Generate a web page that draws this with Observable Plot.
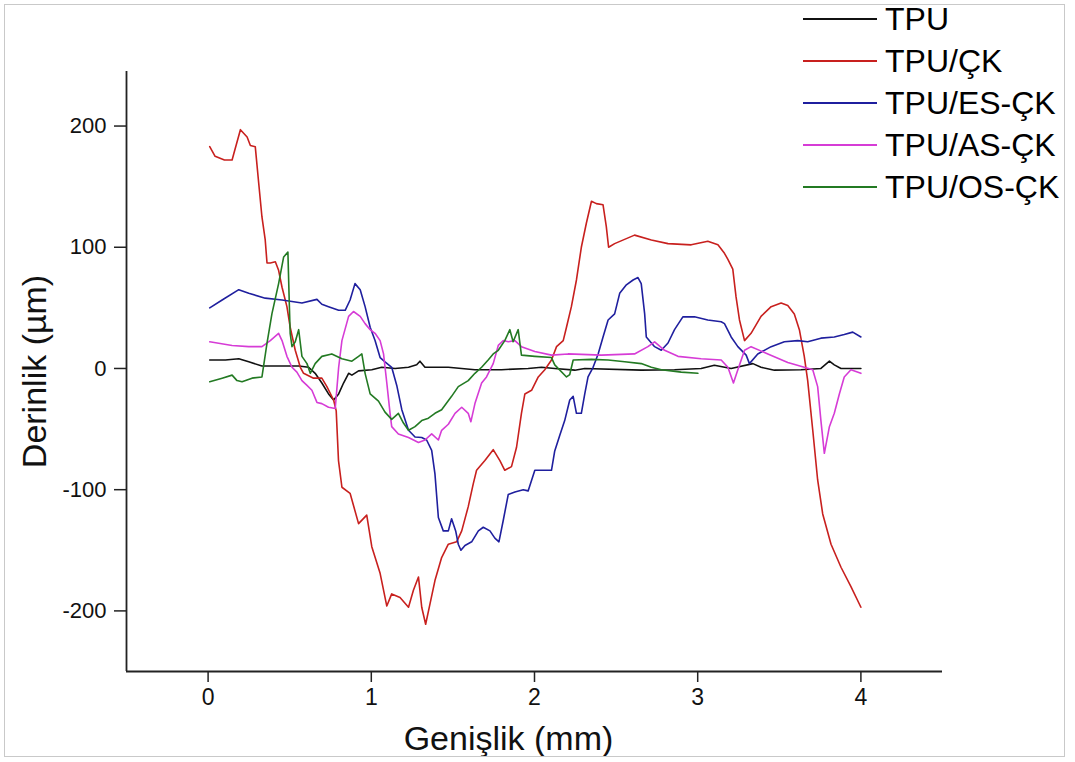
<!DOCTYPE html>
<html>
<head>
<meta charset="utf-8">
<script src="https://cdn.jsdelivr.net/npm/d3@7"></script>
<script src="https://cdn.jsdelivr.net/npm/@observablehq/plot@0.6"></script>
<style>
  html, body { margin: 0; padding: 0; background: #fff; }
  body { width: 1075px; height: 762px; position: relative; overflow: hidden; font-family: "Liberation Sans", Arial, sans-serif; }
  #frame { position: absolute; left: 4px; top: 4px; width: 1061px; height: 753px; border: 1px solid #c9c9c9; box-sizing: border-box; pointer-events: none; }
  #chart { position: absolute; left: 0; top: 0; }
  #legend { position: absolute; left: 803px; top: -2px; }
  .row { display: flex; align-items: center; height: 42px; }
  .row svg { display: block; margin-right: 8px; }
  .lab { font-size: 32px; color: #000; line-height: 1; white-space: nowrap; }
</style>
</head>
<body>
<div id="chart"></div>
<div id="legend"></div>
<div id="frame"></div>
<script>
// ---- data (x in mm, y in µm) ----
const seriesNames = ["TPU", "TPU/ÇK", "TPU/ES-ÇK", "TPU/AS-ÇK", "TPU/OS-ÇK"];
const seriesColors = ["#111111", "#c8201e", "#1f1f9e", "#d63cd6", "#237a23"];

const TPU = [[0.01,7],[0.106,7],[0.188,8],[0.249,5.5],[0.33,2],[0.453,2],[0.555,2],[0.616,1],[0.656,-4],[0.697,-12],[0.738,-21],[0.769,-26],[0.8,-21],[0.83,-12],[0.861,-4],[0.881,-5.5],[0.922,-2],[1.003,-1],[1.064,1],[1.146,0],[1.228,1],[1.278,3],[1.298,6],[1.329,1],[1.472,1],[1.635,-1],[1.798,-1],[1.961,0],[2.043,1],[2.124,0],[2.247,-1.4],[2.308,0],[2.654,-1.4],[2.858,-1],[3.021,0],[3.102,2.7],[3.205,0],[3.338,4],[3.388,1],[3.47,-1.4],[3.633,-1],[3.755,0],[3.807,6],[3.837,3],[3.878,0],[4.0,0]];

const TPU_CK = [[0.01,183],[0.043,175],[0.1,172],[0.147,172],[0.157,177],[0.198,197],[0.239,191],[0.259,184],[0.289,183],[0.31,153],[0.33,125],[0.35,106],[0.361,87],[0.381,87],[0.412,88],[0.432,81],[0.453,67],[0.483,51],[0.503,34],[0.534,15],[0.565,1],[0.585,-4],[0.646,-8],[0.697,-8],[0.728,-15],[0.769,-26],[0.785,-35],[0.799,-76],[0.82,-98],[0.87,-103],[0.922,-128],[0.972,-121],[1.003,-147],[1.054,-169],[1.095,-196],[1.125,-186],[1.176,-189],[1.228,-197],[1.258,-183],[1.289,-172],[1.309,-197],[1.333,-211],[1.36,-194],[1.39,-175],[1.431,-156],[1.472,-145],[1.523,-143],[1.554,-134],[1.594,-114],[1.625,-95],[1.645,-84],[1.696,-76],[1.747,-67],[1.788,-76],[1.818,-84],[1.859,-81],[1.89,-65],[1.92,-37],[1.941,-21],[1.982,-18],[2.023,-7],[2.063,-1],[2.104,7],[2.135,18],[2.176,23],[2.196,34],[2.226,51],[2.257,73],[2.287,100],[2.318,120],[2.349,138],[2.379,136],[2.42,135],[2.44,117],[2.454,100],[2.491,103],[2.613,110],[2.716,106],[2.818,103],[2.96,102],[3.062,105],[3.124,102],[3.164,95],[3.185,90],[3.215,82],[3.235,59],[3.256,40],[3.287,23],[3.327,29],[3.388,43],[3.45,51],[3.511,54],[3.552,52],[3.592,45],[3.623,32],[3.653,10],[3.674,-10],[3.705,-51],[3.735,-92],[3.766,-120],[3.817,-145],[3.878,-164],[3.939,-180],[4.0,-197]];

const TPU_ES_CK = [[0.01,50],[0.086,56.5],[0.188,65],[0.249,62],[0.35,58],[0.453,56.5],[0.575,54],[0.667,57],[0.697,53],[0.738,51],[0.8,48],[0.84,48],[0.87,56.5],[0.9,70],[0.932,65],[0.962,51],[0.993,34],[1.023,23],[1.054,9],[1.084,5.5],[1.125,1],[1.156,-14],[1.187,-34],[1.228,-51],[1.268,-56.5],[1.309,-57],[1.339,-59],[1.37,-67.5],[1.39,-87],[1.411,-123],[1.441,-134],[1.472,-134],[1.492,-124],[1.517,-134],[1.533,-145],[1.549,-150],[1.574,-146],[1.615,-143],[1.656,-134],[1.686,-131],[1.727,-134],[1.757,-140],[1.782,-143],[1.809,-125],[1.839,-104],[1.88,-102],[1.931,-100],[1.961,-101],[2.002,-84],[2.104,-84],[2.124,-68],[2.155,-55],[2.185,-43],[2.216,-26],[2.237,-23],[2.257,-37],[2.287,-37],[2.308,-21],[2.328,-7],[2.359,1],[2.39,12],[2.42,26],[2.451,40],[2.491,45],[2.522,62],[2.563,69],[2.604,73],[2.634,75],[2.654,70],[2.675,45],[2.685,26],[2.736,18],[2.777,15],[2.818,21],[2.858,32],[2.909,42.6],[2.98,42.6],[3.062,40],[3.144,38.5],[3.164,37],[3.205,26],[3.246,18],[3.297,11],[3.317,4],[3.368,12],[3.45,18],[3.531,22],[3.613,23],[3.674,22],[3.755,25],[3.837,26],[3.898,28],[3.95,30],[4.0,26]];

const TPU_AS_CK = [[0.01,22],[0.147,19],[0.249,18],[0.33,18],[0.381,23],[0.432,29],[0.453,23],[0.483,10],[0.514,1],[0.544,-3],[0.575,-10],[0.606,-14],[0.636,-18],[0.667,-28],[0.697,-29],[0.738,-32],[0.779,-33],[0.8,1],[0.82,23],[0.861,43],[0.891,47],[0.932,43],[0.962,37],[0.993,32],[1.023,29],[1.054,23],[1.075,12],[1.095,-12],[1.115,-37],[1.125,-48],[1.166,-54],[1.228,-57],[1.289,-61],[1.329,-59],[1.37,-54],[1.411,-59],[1.431,-51],[1.472,-46],[1.513,-37],[1.554,-32],[1.594,-37],[1.61,-44],[1.635,-29],[1.676,-12],[1.706,-7],[1.747,4],[1.778,19],[1.809,23],[1.839,22],[1.88,23],[1.92,18],[2.002,14],[2.104,11],[2.206,12],[2.41,11],[2.613,12],[2.695,18],[2.736,22],[2.797,15],[2.879,10],[3.021,8],[3.144,7],[3.185,1],[3.219,-12],[3.246,-1],[3.287,15],[3.327,18],[3.43,12],[3.552,5],[3.653,1],[3.705,-1],[3.735,-15],[3.755,-43],[3.776,-70],[3.807,-48],[3.837,-37],[3.868,-21],[3.898,-7],[3.939,-1],[4.0,-4]];

const TPU_OS_CK = [[0.01,-11],[0.086,-8],[0.147,-5.5],[0.177,-10],[0.208,-11],[0.269,-8],[0.33,-7],[0.361,21],[0.391,45],[0.432,70],[0.463,92],[0.489,96],[0.497,56],[0.503,29],[0.514,18],[0.534,22],[0.555,32],[0.575,10],[0.606,4],[0.626,-4],[0.656,4],[0.697,10],[0.758,12],[0.82,8],[0.881,6],[0.922,10],[0.942,12],[0.962,-4],[0.993,-21],[1.044,-27],[1.084,-36],[1.125,-42],[1.166,-37],[1.197,-45],[1.228,-51],[1.268,-48],[1.309,-43],[1.35,-41],[1.39,-37],[1.431,-34],[1.492,-23],[1.533,-15],[1.594,-10],[1.635,-4],[1.676,1],[1.716,7],[1.747,12],[1.778,15],[1.818,23],[1.849,32],[1.869,22],[1.9,32],[1.92,11],[2.002,10],[2.104,9],[2.124,3],[2.196,-7],[2.216,-5],[2.237,7],[2.349,7.5],[2.451,7],[2.553,5.5],[2.654,4],[2.716,1],[2.777,-1],[2.899,-3],[3.001,-4]];

const xDomain = [-0.5, 4.5];
const yDomain = [-250, 245];
const xTicks = [0, 1, 2, 3, 4];
const yTicks = [-200, -100, 0, 100, 200];
const xLabel = "Genişlik (mm)";
const yLabel = "Derinlik (µm)";

const seriesData = [TPU, TPU_CK, TPU_ES_CK, TPU_AS_CK, TPU_OS_CK];
const rows = seriesData.flatMap((arr, i) => arr.map(([x, y]) => ({series: seriesNames[i], x, y})));

const font = "'Liberation Sans', Arial, sans-serif";

const chart = Plot.plot({
  width: 1075,
  height: 762,
  marginTop: 71,
  marginLeft: 126,
  marginRight: 133,
  marginBottom: 91,
  style: {fontFamily: font, background: "transparent", overflow: "visible"},
  x: {domain: xDomain},
  y: {domain: yDomain},
  color: {domain: seriesNames, range: seriesColors},
  marks: [
    Plot.line(rows, {x: "x", y: "y", z: "series", stroke: "series", strokeWidth: 1.6, curve: "linear"}),
    Plot.ruleX([xDomain[0]], {stroke: "#222", strokeWidth: 1.8}),
    Plot.ruleY([yDomain[0]], {stroke: "#222", strokeWidth: 1.8}),
    Plot.axisY(yTicks, {tickSize: 12, tickPadding: 8, fontSize: 22, stroke: "#222", strokeWidth: 1.5, label: null, fill: "#111", tickFormat: d => String(d)}),
    Plot.axisX(xTicks, {tickSize: 11, tickPadding: 6, fontSize: 23, stroke: "#222", strokeWidth: 1.5, label: null, fill: "#111", tickFormat: d => String(d)}),
    Plot.text([xLabel], {frameAnchor: "bottom", lineAnchor: "middle", textAnchor: "middle", dy: 68, dx: -26, fontSize: 34, fill: "#111", text: d => d}),
    Plot.text([yLabel], {frameAnchor: "left", textAnchor: "middle", lineAnchor: "middle", dx: -91, rotate: -90, fontSize: 34, fill: "#111", text: d => d})
  ]
});
document.getElementById("chart").appendChild(chart);

const legend = document.getElementById("legend");
const ns = "http://www.w3.org/2000/svg";
seriesNames.forEach((name, i) => {
  const row = document.createElement("div");
  row.className = "row";
  const sw = document.createElementNS(ns, "svg");
  sw.setAttribute("width", "74");
  sw.setAttribute("height", "6");
  const ln = document.createElementNS(ns, "line");
  ln.setAttribute("x1", "0"); ln.setAttribute("x2", "74");
  ln.setAttribute("y1", "3"); ln.setAttribute("y2", "3");
  ln.setAttribute("stroke", seriesColors[i]);
  ln.setAttribute("stroke-width", "1.8");
  sw.appendChild(ln);
  const lab = document.createElement("span");
  lab.className = "lab";
  lab.textContent = name;
  row.appendChild(sw);
  row.appendChild(lab);
  legend.appendChild(row);
});
</script>
</body>
</html>
